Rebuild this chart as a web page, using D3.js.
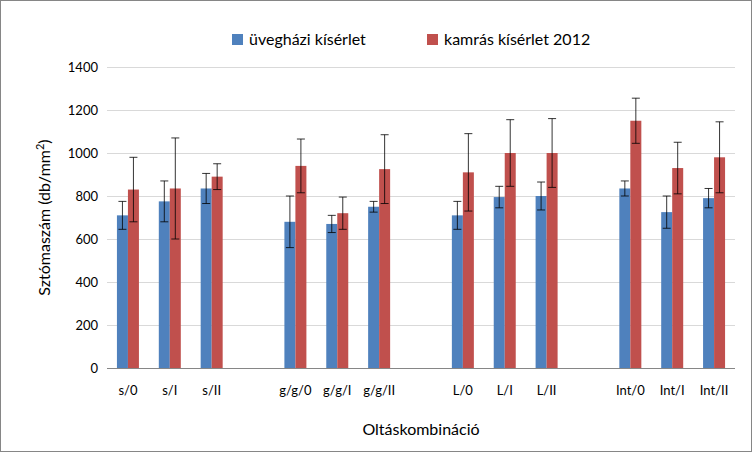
<!DOCTYPE html><html><head><meta charset="utf-8"><script src="https://cdn.jsdelivr.net/npm/d3@7"></script>
<style>body{margin:0;background:#fff}text{font-family:Lato,"Open Sans",sans-serif;fill:#000}</style></head><body>
<script>
const categories=["s/0","s/I","s/II","","g/g/0","g/g/I","g/g/II"," ","L/0","L/I","L/II","  ","Int/0","Int/I","Int/II"];
const blue=[710,775,835,null,680,670,750,null,710,795,800,null,835,725,790];
const blueErr=[65,95,70,null,120,40,25,null,65,50,65,null,35,75,45];
const red=[830,835,890,null,940,720,925,null,910,1000,1000,null,1150,930,980];
const redErr=[150,235,60,null,125,75,160,null,180,155,160,null,105,120,165];
const yTicks=[0,200,400,600,800,1000,1200,1400];
const seriesNames=["üvegházi kísérlet","kamrás kísérlet 2012"];
const colors=["#4F81BD","#C0504D"];
const W=752,H=452,m={l:107,r:17,t:67,b:84};
const svg=d3.select("body").append("svg").attr("width",W).attr("height",H);
svg.append("rect").attr("x",0.5).attr("y",0.5).attr("width",W-1).attr("height",H-1).attr("fill","#fff").attr("stroke","#868686");
const x=d3.scaleBand().domain(categories).range([m.l,W-m.r]);
const y=d3.scaleLinear().domain([0,1400]).range([H-m.b,m.t]);
const g=svg.append("g");
g.selectAll(".grid").data(yTicks).join("line").attr("x1",m.l).attr("x2",W-m.r).attr("y1",d=>y(d)+.5).attr("y2",d=>y(d)+.5).attr("stroke",d=>d?"#d9d9d9":"#868686");
g.selectAll(".yl").data(yTicks).join("text").attr("x",m.l-9).attr("y",d=>y(d)+5).attr("text-anchor","end").attr("font-size",13).text(d=>d);
const bw=11;
[[blue,blueErr],[red,redErr]].forEach(([v,e],si)=>{
 categories.forEach((c,i)=>{ if(v[i]==null)return;
  const cx=x(c)+x.bandwidth()/2+(si?bw/2:-bw/2);
  g.append("rect").attr("x",cx-bw/2).attr("width",bw).attr("y",y(v[i])).attr("height",y(0)-y(v[i])).attr("fill",colors[si]);
  const t=y(v[i]+e[i]),b=y(v[i]-e[i]);
  g.append("path").attr("d",`M${cx},${t}V${b}M${cx-4},${t}H${cx+4}M${cx-4},${b}H${cx+4}`).attr("stroke","#000").attr("stroke-width",0.8).attr("fill","none");
 });
});
g.selectAll(".xl").data(categories).join("text").attr("x",d=>x(d)+x.bandwidth()/2).attr("y",H-m.b+27).attr("text-anchor","middle").attr("font-size",13).text(d=>d.trim());
svg.append("text").attr("x",(m.l+W-m.r)/2).attr("y",435).attr("text-anchor","middle").attr("font-size",16).text("Oltáskombináció");
svg.append("text").attr("transform",`translate(50,${(m.t+H-m.b)/2}) rotate(-90)`).attr("text-anchor","middle").attr("font-size",16).html("Sztómaszám (db/mm<tspan dy='-6' font-size='11'>2</tspan><tspan dy='6'>)</tspan>");
const lx=[232,427];
seriesNames.forEach((n,i)=>{svg.append("rect").attr("x",lx[i]).attr("y",34).attr("width",11).attr("height",11).attr("fill",colors[i]);
 svg.append("text").attr("x",lx[i]+17).attr("y",45).attr("font-size",16).text(n);});
</script></body></html>
